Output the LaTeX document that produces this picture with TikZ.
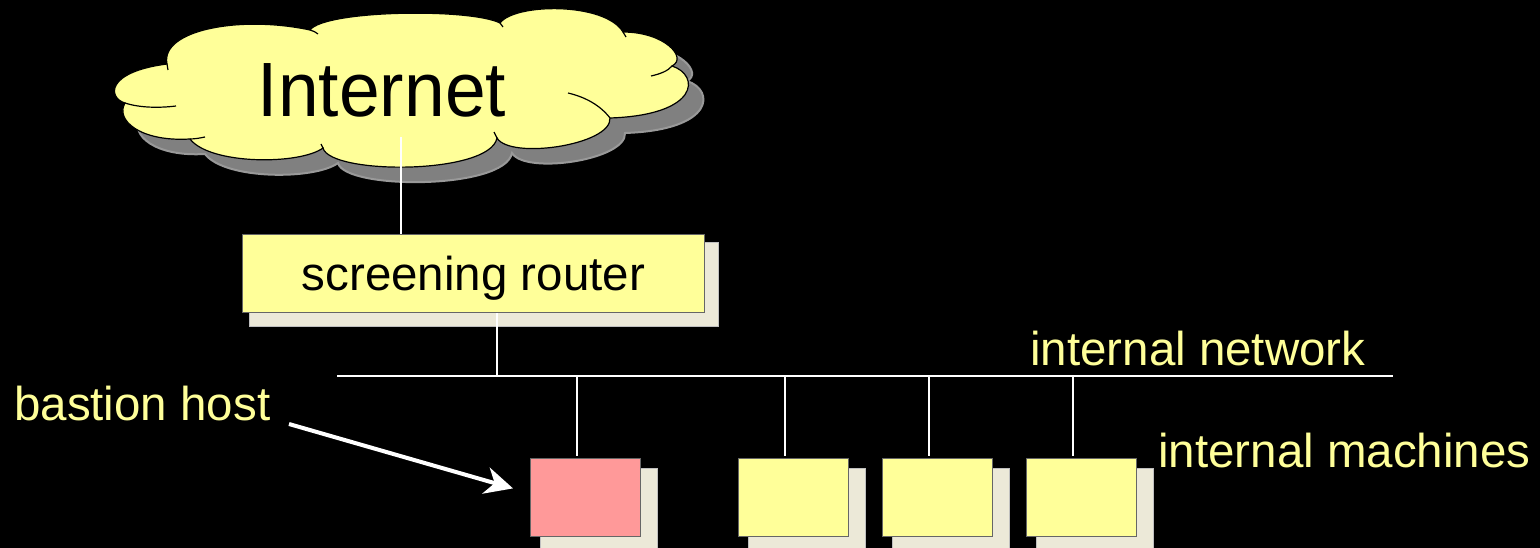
\documentclass[tikz,border=0pt]{standalone}
\usepackage{fontspec}
\setmainfont{Liberation Sans}
\newfontfamily\cloudfont[FakeStretch=0.95]{Liberation Sans}
\usetikzlibrary{arrows.meta,calc}
\definecolor{paleyellow}{HTML}{FFFF99}
\definecolor{palepink}{HTML}{FF9999}
\definecolor{boxshade}{HTML}{ECE9D8}
\definecolor{cloudshade}{HTML}{808080}
\pgfdeclarelayer{bg}
\pgfsetlayers{bg,main}

% outline of the Internet cloud, lobe by lobe
\newcommand{\cloudoutline}{%
  (125,103) .. controls (108,98) and (105,72) .. (167,64)
  .. controls (160,30) and (240,15) .. (310,30)
  .. controls (325,10) and (470,8) .. (500,23)
  .. controls (515,3) and (605,2) .. (623,32)
  .. controls (665,32) and (688,58) .. (672,66)
  .. controls (700,75) and (700,115) .. (610,118)
  .. controls (612,145) and (510,160) .. (497,138)
  .. controls (490,175) and (330,175) .. (323,148)
  .. controls (300,165) and (210,165) .. (190,139)
  .. controls (140,142) and (115,120) .. (125,103) -- cycle}

\begin{document}
\begin{tikzpicture}[x=1pt,y=-1pt,
  wire/.style={white,line width=2pt},
  tagtext/.style={text=paleyellow,font=\fontsize{47.5}{56}\selectfont,inner sep=0pt},
  hostbox/.style={draw=black!60,line width=0.8pt,minimum width=110pt,minimum height=78pt,inner sep=0pt,anchor=north west},
  dropshade/.style={fill=boxshade,draw=black!25,line width=0.8pt},
  cloudtick/.style={draw=black,line width=1.2pt},
]
\useasboundingbox (0,0) rectangle (1540,548);

% cloud with its soft grey shadow
\fill[cloudshade!70,shift={(15,15)}] \cloudoutline;
\fill[cloudshade,shift={(15,15)},draw=cloudshade!80,line width=2pt] \cloudoutline;
\filldraw[fill=paleyellow,draw=black,line width=1.2pt] \cloudoutline;
% inner ends of the lobes
\draw[cloudtick] (125,103) .. controls (140,108) and (160,108) .. (176,106);
\draw[cloudtick] (672,66) .. controls (668,71) and (660,74) .. (651,76);
\draw[cloudtick] (610,118) .. controls (600,105) and (585,97) .. (568,93);
\draw[cloudtick] (190,139) .. controls (195,139) and (200,138) .. (205,137);
\draw[cloudtick] (310,30) .. controls (313,31) and (316,32) .. (318,34);
\draw[cloudtick] (500,23) -- (503,27);
\draw[cloudtick] (623,32) -- (626,37);
\draw[cloudtick] (497,138) -- (494,132);
\draw[cloudtick] (323,148) -- (321,144);
\draw[cloudtick] (167,64) -- (168,70);

\node[font=\cloudfont\fontsize{77}{90}\selectfont,anchor=base,inner sep=0pt] (inet) at (382,117) {Internet};

% screening router
\node[draw=black!60,line width=0.8pt,fill=paleyellow,minimum width=462pt,minimum height=78pt,
      text height=34pt,text depth=0pt,inner sep=0pt,anchor=north west,
      font=\fontsize{47.5}{56}\selectfont] (router) at (242,234) {screening router};

% hosts on the internal network
\node[hostbox,fill=palepink] (h0) at (530,458) {};
\node[hostbox,fill=paleyellow] (h1) at (738,458) {};
\node[hostbox,fill=paleyellow] (h2) at (882,458) {};
\node[hostbox,fill=paleyellow] (h3) at (1026,458) {};

\begin{pgfonlayer}{bg}
  \fill[black] (0,0) rectangle (1540,548);
  \filldraw[dropshade] ([shift={(7,8)}]router.north west) rectangle ([shift={(14,14)}]router.south east);
  \foreach \h in {h0,h1,h2,h3}
    \filldraw[dropshade] ([shift={(10,10)}]\h.north west) rectangle ([shift={(17,17)}]\h.south east);
\end{pgfonlayer}

% wiring
\coordinate (cloudfoot) at (401,137);
\draw[wire] (cloudfoot) -- (cloudfoot |- router.north);
\coordinate (busL) at (337,376);
\coordinate (busR) at (1393,376);
\draw[wire] (busL) -- (busR);
\coordinate (rtap) at (497,376);
\draw[wire] (rtap |- router.south) -- (rtap);
\coordinate (t0) at (577,376);
\coordinate (t1) at (785,376);
\coordinate (t2) at (929,376);
\coordinate (t3) at (1073,376);
\foreach \i in {0,1,2,3}
  \draw[wire,shorten >=2.5pt] (t\i) -- (t\i |- h\i.north);

% labels
\node[tagtext,anchor=base west] (netname) at (1030,365) {internal network};
\node[tagtext,anchor=base west] (machines) at (1158,467) {internal machines};
\node[tagtext,anchor=base west] (bastion) at (14,420) {bastion host};

\coordinate (bastiontail) at (289,424);
\draw[white,line width=4pt,-{Stealth[length=28pt,width=27pt,inset=9pt]}]
  (bastiontail) -- ($(h0.west)+(-17,-9)$);
\end{tikzpicture}
\end{document}
